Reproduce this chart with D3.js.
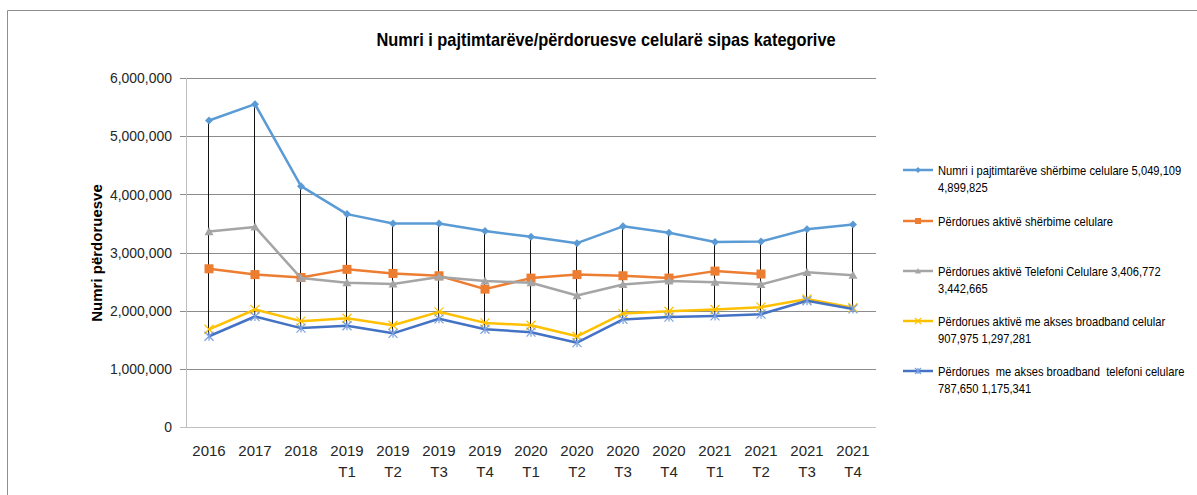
<!DOCTYPE html>
<html>
<head>
<meta charset="utf-8">
<script src="https://cdn.jsdelivr.net/npm/d3@7"></script>
<style>
  body { margin: 0; background: #fff; }
  svg { display: block; font-family: "Liberation Sans", Arial, sans-serif; }
</style>
</head>
<body>
<svg id="chart" width="1197" height="495"></svg>
<script>
// categories (two-line labels)
const categories = ["2016", "2017", "2018", "2019 T1", "2019 T2", "2019 T3", "2019 T4",
  "2020 T1", "2020 T2", "2020 T3", "2020 T4", "2021 T1", "2021 T2", "2021 T3", "2021 T4"];

// series values
const pajtimtare = [5270000, 5550000, 4140000, 3660000, 3500000, 3500000, 3370000,
  3270000, 3160000, 3450000, 3340000, 3180000, 3190000, 3400000, 3480000];
const aktiveSherbime = [2720000, 2620000, 2570000, 2710000, 2640000, 2600000, 2370000,
  2560000, 2620000, 2600000, 2560000, 2680000, 2630000, null, null];
const telefoniCelulare = [3360000, 3440000, 2560000, 2480000, 2460000, 2580000, 2510000,
  2480000, 2260000, 2450000, 2510000, 2490000, 2450000, 2660000, 2610000];
const broadbandCelular = [1680000, 2020000, 1820000, 1870000, 1750000, 1980000, 1790000,
  1750000, 1560000, 1950000, 1990000, 2020000, 2060000, 2200000, 2050000];
const broadbandTelefoni = [1560000, 1900000, 1700000, 1740000, 1610000, 1860000, 1680000,
  1630000, 1450000, 1850000, 1890000, 1910000, 1940000, 2170000, 2030000];

const yTicks = [0, 1000000, 2000000, 3000000, 4000000, 5000000, 6000000];

const legendLabels = [
  ["Numri i pajtimtarëve shërbime celulare 5,049,109", "4,899,825"],
  ["Përdorues aktivë shërbime celulare"],
  ["Përdorues aktivë Telefoni Celulare 3,406,772", "3,442,665"],
  ["Përdorues aktivë me akses broadband celular", "907,975 1,297,281"],
  ["Përdorues  me akses broadband  telefoni celulare", "787,650 1,175,341"]
];

const series = [
  { values: pajtimtare, color: "#5b9bd5", marker: "diamond" },
  { values: aktiveSherbime, color: "#ed7d31", marker: "square" },
  { values: telefoniCelulare, color: "#a5a5a5", marker: "triangle" },
  { values: broadbandCelular, color: "#ffc000", marker: "x" },
  { values: broadbandTelefoni, color: "#4472c4", marker: "star" }
];

const margin = { top: 78, right: 321, bottom: 68, left: 186 };
const width = 1197 - margin.left - margin.right;
const height = 495 - margin.top - margin.bottom;

const svg = d3.select("#chart");

// outer chart border (only top and left visible)
svg.append("path")
  .attr("d", "M7.5,1000 V10.5 H1300")
  .attr("fill", "none")
  .attr("stroke", "#8e8e8e")
  .attr("stroke-width", 1);

// title (squeezed a bit, the original font is narrow)
svg.append("text")
  .attr("transform", "translate(606,46) scale(0.91,1)")
  .attr("text-anchor", "middle")
  .attr("font-weight", "bold")
  .attr("font-size", "18px")
  .attr("fill", "#000")
  .text("Numri i pajtimtarëve/përdoruesve celularë sipas kategorive");

const g = svg.append("g").attr("transform", `translate(${margin.left},${margin.top})`);

const x = d3.scalePoint().domain(categories).range([0, width]).padding(0.5);
const y = d3.scaleLinear().domain([0, 6000000]).range([height, 0]);

// gridlines
g.append("g")
  .selectAll("line")
  .data(yTicks)
  .join("line")
  .attr("x1", -6)
  .attr("x2", width)
  .attr("y1", (d) => Math.round(y(d)) + 0.5)
  .attr("y2", (d) => Math.round(y(d)) + 0.5)
  .attr("stroke", (d) => (d === 0 ? "#bfbfbf" : "#8c8c8c"))
  .attr("stroke-width", 1);

// y axis line
g.append("line")
  .attr("x1", 0.5).attr("x2", 0.5)
  .attr("y1", 0).attr("y2", height)
  .attr("stroke", "#bfbfbf");

// y axis labels
g.append("g")
  .selectAll("text")
  .data(yTicks)
  .join("text")
  .attr("transform", (d) => `translate(-14,${y(d)}) scale(0.93,1)`)
  .attr("dy", "0.35em")
  .attr("text-anchor", "end")
  .attr("font-size", "15px")
  .attr("fill", "#262626")
  .text((d) => d3.format(",")(d));

// y axis title
svg.append("text")
  .attr("transform", "translate(102,253) rotate(-90)")
  .attr("text-anchor", "middle")
  .attr("font-weight", "bold")
  .attr("font-size", "15px")
  .attr("fill", "#000")
  .text("Numri përdoruesve");

// x axis labels
const xl = g.append("g")
  .selectAll("text")
  .data(categories)
  .join("text")
  .attr("x", (d) => x(d))
  .attr("text-anchor", "middle")
  .attr("font-size", "15px")
  .attr("fill", "#262626");
xl.append("tspan")
  .attr("x", (d) => x(d))
  .attr("y", height + 29)
  .text((d) => d.split(" ")[0]);
xl.append("tspan")
  .attr("x", (d) => x(d))
  .attr("y", height + 50)
  .text((d) => d.split(" ")[1] || "");

// high-low lines
const hiLo = categories.map((c, i) => {
  const vals = series.map((s) => s.values[i]).filter((v) => v != null);
  return { c, hi: d3.max(vals), lo: d3.min(vals) };
});
g.append("g")
  .selectAll("line")
  .data(hiLo)
  .join("line")
  .attr("x1", (d) => x(d.c) - 0.5)
  .attr("x2", (d) => x(d.c) - 0.5)
  .attr("y1", (d) => y(d.hi))
  .attr("y2", (d) => y(d.lo))
  .attr("stroke", "#111")
  .attr("stroke-width", 1);

const line = d3.line()
  .defined((d) => d != null)
  .x((d, i) => x(categories[i]))
  .y((d) => y(d));

function drawMarker(sel, type, color, size) {
  const s = size / 2;
  if (type === "diamond") {
    sel.append("path").attr("d", `M0,${-s} L${s},0 L0,${s} L${-s},0Z`).attr("fill", color);
  } else if (type === "square") {
    sel.append("rect").attr("x", -s).attr("y", -s).attr("width", size).attr("height", size).attr("fill", color);
  } else if (type === "triangle") {
    sel.append("path").attr("d", `M0,${-s} L${s},${s * 0.8} L${-s},${s * 0.8}Z`).attr("fill", color);
  } else if (type === "x") {
    sel.append("path").attr("d", `M${-s},${-s} L${s},${s} M${-s},${s} L${s},${-s}`)
      .attr("stroke", color).attr("stroke-width", 1.2).attr("fill", "none");
  } else if (type === "star") {
    sel.append("path").attr("d", `M${-s},${-s} L${s},${s} M${-s},${s} L${s},${-s} M0,${-s} L0,${s}`)
      .attr("stroke", color).attr("stroke-width", 1.2).attr("fill", "none");
  }
}

const markerSizes = { diamond: 8, square: 9, triangle: 9, x: 9, star: 9 };
const markerColors = ["#5b9bd5", "#ed7d31", "#a5a5a5", "#ffc000", "#7aa0e0"];

series.forEach((s, k) => {
  g.append("path")
    .datum(s.values)
    .attr("d", line)
    .attr("fill", "none")
    .attr("stroke", s.color)
    .attr("stroke-width", 2.5)
    .attr("stroke-linejoin", "round");

  g.append("g")
    .selectAll("g")
    .data(s.values.map((v, i) => ({ v, c: categories[i] })).filter((d) => d.v != null))
    .join("g")
    .attr("transform", (d) => `translate(${x(d.c)},${y(d.v)})`)
    .each(function () {
      drawMarker(d3.select(this), s.marker, markerColors[k], markerSizes[s.marker]);
    });
});

// legend
const legendY = [170, 221, 271, 321, 371];
const legend = svg.append("g");
series.forEach((s, k) => {
  const lg = legend.append("g").attr("transform", `translate(903,${legendY[k]})`);
  lg.append("line")
    .attr("x1", 0).attr("x2", 30)
    .attr("y1", 0).attr("y2", 0)
    .attr("stroke", s.color)
    .attr("stroke-width", 2.5);
  const mk = lg.append("g").attr("transform", "translate(15,0)");
  drawMarker(mk, s.marker, markerColors[k], 6);
  const t = lg.append("text")
    .attr("transform", "translate(35,0) scale(0.86,1)")
    .attr("font-size", "13px")
    .attr("fill", "#000")
    .attr("xml:space", "preserve");
  legendLabels[k].forEach((txt, j) => {
    t.append("tspan")
      .attr("x", 0)
      .attr("y", j * 17)
      .attr("dy", "0.35em")
      .text(txt);
  });
});
</script>
</body>
</html>
